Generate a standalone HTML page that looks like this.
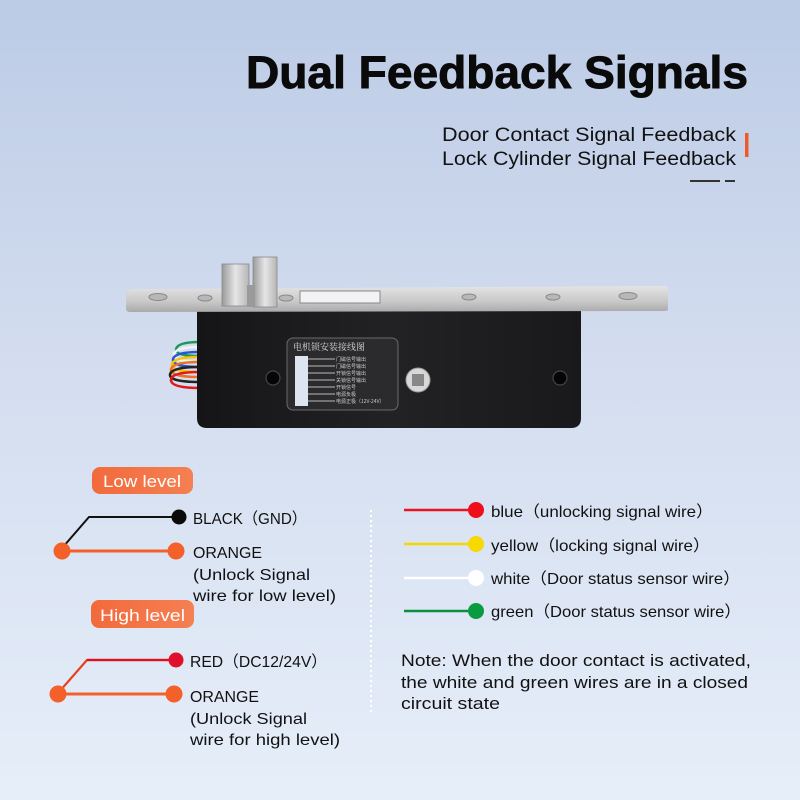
<!DOCTYPE html>
<html><head><meta charset="utf-8"><style>
html,body{margin:0;padding:0;width:800px;height:800px;overflow:hidden}
svg{display:block}
.t{font-family:"Liberation Sans","Noto Sans CJK SC",sans-serif;fill:#111}
.c{font-family:"Liberation Sans","Noto Sans CJK SC",sans-serif;fill:#111}
</style></head><body>
<svg width="800" height="800" viewBox="0 0 800 800" xmlns="http://www.w3.org/2000/svg">
<defs>
<linearGradient id="bg" x1="0" y1="0" x2="0" y2="1">
<stop offset="0" stop-color="#bccbe6"/><stop offset="0.45" stop-color="#d3ddef"/><stop offset="1" stop-color="#e6eef9"/>
</linearGradient>
<linearGradient id="plate" x1="0" y1="0" x2="0" y2="1">
<stop offset="0" stop-color="#e4e4e4"/><stop offset="0.6" stop-color="#c8c8c8"/><stop offset="1" stop-color="#a9a9a9"/>
</linearGradient>
<linearGradient id="body" x1="0" y1="0" x2="1" y2="0">
<stop offset="0" stop-color="#151517"/><stop offset="0.5" stop-color="#222225"/><stop offset="1" stop-color="#19191b"/>
</linearGradient>
<linearGradient id="pill" x1="0" y1="0" x2="1" y2="0">
<stop offset="0" stop-color="#f26a3c"/><stop offset="1" stop-color="#f58052"/>
</linearGradient>
<linearGradient id="bolt" x1="0" y1="0" x2="1" y2="0">
<stop offset="0" stop-color="#9a9a9a"/><stop offset="0.5" stop-color="#e6e6e6"/><stop offset="1" stop-color="#b5b5b5"/>
</linearGradient>
</defs>
<rect width="800" height="800" fill="url(#bg)"/>

<!-- Title -->
<text x="246" y="88" font-family="Liberation Sans, sans-serif" font-weight="bold" font-size="45" fill="#0a0a0a" stroke="#0a0a0a" stroke-width="0.9" textLength="502" lengthAdjust="spacingAndGlyphs">Dual Feedback Signals</text>
<text x="442" y="141" class="t" font-size="19" textLength="294" lengthAdjust="spacingAndGlyphs">Door Contact Signal Feedback</text>
<text x="442" y="165" class="t" font-size="19" textLength="294" lengthAdjust="spacingAndGlyphs">Lock Cylinder Signal Feedback</text>
<rect x="745" y="133" width="3.5" height="24" fill="#ee5a2c"/>
<rect x="690" y="180" width="30" height="2" fill="#333"/>
<rect x="725" y="180" width="10" height="2" fill="#333"/>

<!-- Lock -->
<g fill="none" stroke-width="2.6">
<path d="M200 342 Q176 342 176 350 Q176 356 200 356" stroke="#1a9a5a"/>
<path d="M200 347 Q174 347 174 355 Q174 362 200 362" stroke="#f2f2f2"/>
<path d="M200 352 Q173 352 173 360 Q173 367 200 367" stroke="#2a56d0"/>
<path d="M200 357 Q172 357 172 365 Q172 372 200 372" stroke="#f4c400"/>
<path d="M200 362 Q171 362 171 370 Q171 377 200 377" stroke="#f07020"/>
<path d="M200 367 Q170 367 170 375 Q170 382 200 382" stroke="#222"/>
<path d="M200 372 Q171 372 171 380 Q171 388 200 388" stroke="#e01818"/>
</g>
<path d="M197 308 H581 V418 Q581 428 571 428 H207 Q197 428 197 418 Z" fill="url(#body)"/>
<path d="M134 289 L665 286 Q668 286 668 289 L668 309 Q668 311 665 311 L130 312 Q126 312 126 308 L126 296 Q126 289 134 289 Z" fill="url(#plate)"/>
<rect x="300" y="291" width="80" height="12" fill="#f2f2f4" stroke="#888" stroke-width="1"/>
<g fill="#b8b8b8" stroke="#8a8a8a" stroke-width="1">
<ellipse cx="158" cy="297" rx="9" ry="3.5"/>
<ellipse cx="205" cy="298" rx="7" ry="3"/>
<ellipse cx="286" cy="298" rx="7" ry="3"/>
<ellipse cx="469" cy="297" rx="7" ry="3"/>
<ellipse cx="553" cy="297" rx="7" ry="3"/>
<ellipse cx="628" cy="296" rx="9" ry="3.5"/>
</g>
<rect x="222" y="264" width="27" height="42" fill="url(#bolt)" stroke="#888" stroke-width="0.8"/>
<rect x="253" y="257" width="24" height="50" fill="url(#bolt)" stroke="#888" stroke-width="0.8"/>
<rect x="247" y="285" width="8" height="22" fill="#9a9a9a"/>
<rect x="287" y="338" width="111" height="72" rx="6" fill="#2b2b2d" stroke="#6a6a6a" stroke-width="1"/>
<text x="293" y="350" font-family="Noto Serif CJK SC, serif" font-size="9" fill="#ddd">电机锁安装接线图</text>
<rect x="295" y="356" width="13" height="50" fill="#dde6f0"/>
<g stroke="#bbb" stroke-width="1">
<line x1="308" y1="359" x2="335" y2="359"/><line x1="308" y1="366" x2="335" y2="366"/>
<line x1="308" y1="373" x2="335" y2="373"/><line x1="308" y1="380" x2="335" y2="380"/>
<line x1="308" y1="387" x2="335" y2="387"/><line x1="308" y1="394" x2="335" y2="394"/>
<line x1="308" y1="401" x2="335" y2="401"/>
</g>
<g font-family="Noto Sans CJK SC, sans-serif" font-size="5" fill="#ccc">
<text x="336" y="361">门磁信号输出</text><text x="336" y="368">门磁信号输出</text>
<text x="336" y="375">开锁信号输出</text><text x="336" y="382">关锁信号输出</text>
<text x="336" y="389">开锁信号</text><text x="336" y="396">电源负极</text>
<text x="336" y="403">电源正极（12V-24V）</text>
</g>
<circle cx="273" cy="378" r="7" fill="#050505" stroke="#444" stroke-width="1.2"/>
<circle cx="560" cy="378" r="7" fill="#050505" stroke="#444" stroke-width="1.2"/>
<circle cx="418" cy="380" r="12" fill="#d8d8d8" stroke="#999" stroke-width="1"/>
<rect x="412" y="374" width="12" height="12" fill="#888"/>

<!-- Low level -->
<rect x="92" y="467" width="101" height="27" rx="8" fill="url(#pill)"/>
<text x="103" y="487" font-family="Liberation Sans, sans-serif" font-size="17" fill="#fff" textLength="78" lengthAdjust="spacingAndGlyphs">Low level</text>
<polyline points="63,547 89,517 178,517" fill="none" stroke="#111" stroke-width="2"/>
<circle cx="179" cy="517" r="7.5" fill="#0a0a0a"/>
<line x1="62" y1="551" x2="176" y2="551" stroke="#f4602a" stroke-width="3"/>
<circle cx="62" cy="551" r="8.5" fill="#f4602a"/>
<circle cx="176" cy="551" r="8.5" fill="#f4602a"/>
<text x="193" y="524" class="c" font-size="16" textLength="114" lengthAdjust="spacingAndGlyphs">BLACK（GND）</text>
<text x="193" y="558" class="c" font-size="16" textLength="69" lengthAdjust="spacingAndGlyphs">ORANGE</text>
<text x="193" y="580" class="c" font-size="16" textLength="117" lengthAdjust="spacingAndGlyphs">(Unlock Signal</text>
<text x="193" y="601" class="c" font-size="16" textLength="143" lengthAdjust="spacingAndGlyphs">wire for low level)</text>

<!-- High level -->
<rect x="91" y="600" width="103" height="28" rx="8" fill="url(#pill)"/>
<text x="100" y="621" font-family="Liberation Sans, sans-serif" font-size="17" fill="#fff" textLength="85" lengthAdjust="spacingAndGlyphs">High level</text>
<polyline points="59,692 87,660 175,660" fill="none" stroke="#e8401e" stroke-width="2.2"/>
<line x1="87" y1="660" x2="175" y2="660" stroke="#e01020" stroke-width="2.2"/>
<circle cx="176" cy="660" r="7.5" fill="#e0102a"/>
<line x1="58" y1="694" x2="174" y2="694" stroke="#f4602a" stroke-width="3"/>
<circle cx="58" cy="694" r="8.5" fill="#f4602a"/>
<circle cx="174" cy="694" r="8.5" fill="#f4602a"/>
<text x="190" y="667" class="c" font-size="16" textLength="137" lengthAdjust="spacingAndGlyphs">RED（DC12/24V）</text>
<text x="190" y="702" class="c" font-size="16" textLength="69" lengthAdjust="spacingAndGlyphs">ORANGE</text>
<text x="190" y="724" class="c" font-size="16" textLength="117" lengthAdjust="spacingAndGlyphs">(Unlock Signal</text>
<text x="190" y="745" class="c" font-size="16" textLength="150" lengthAdjust="spacingAndGlyphs">wire for high level)</text>

<line x1="371" y1="510" x2="371" y2="712" stroke="#ffffff" stroke-width="2" stroke-dasharray="2 3"/>

<line x1="404" y1="510" x2="476" y2="510" stroke="#e8141e" stroke-width="2.5"/>
<circle cx="476" cy="510" r="8" fill="#ee0f1a"/>
<line x1="404" y1="544" x2="476" y2="544" stroke="#f5d800" stroke-width="2.5"/>
<circle cx="476" cy="544" r="8" fill="#f7d800"/>
<line x1="404" y1="578" x2="476" y2="578" stroke="#ffffff" stroke-width="2.5"/>
<circle cx="476" cy="578" r="8" fill="#ffffff"/>
<line x1="404" y1="611" x2="476" y2="611" stroke="#0a9040" stroke-width="2.5"/>
<circle cx="476" cy="611" r="8" fill="#0a9a40"/>
<text x="491" y="517" class="c" font-size="16" textLength="222" lengthAdjust="spacingAndGlyphs">blue（unlocking signal wire）</text>
<text x="491" y="551" class="c" font-size="16" textLength="219" lengthAdjust="spacingAndGlyphs">yellow（locking signal wire）</text>
<text x="491" y="584" class="c" font-size="16" textLength="249" lengthAdjust="spacingAndGlyphs">white（Door status sensor wire）</text>
<text x="491" y="617" class="c" font-size="16" textLength="250" lengthAdjust="spacingAndGlyphs">green（Door status sensor wire）</text>

<text x="401" y="666" class="t" font-size="17" textLength="350" lengthAdjust="spacingAndGlyphs">Note: When the door contact is activated,</text>
<text x="401" y="688" class="t" font-size="17" textLength="347" lengthAdjust="spacingAndGlyphs">the white and green wires are in a closed</text>
<text x="401" y="709" class="t" font-size="17" textLength="99" lengthAdjust="spacingAndGlyphs">circuit state</text>
</svg>
</body></html>
